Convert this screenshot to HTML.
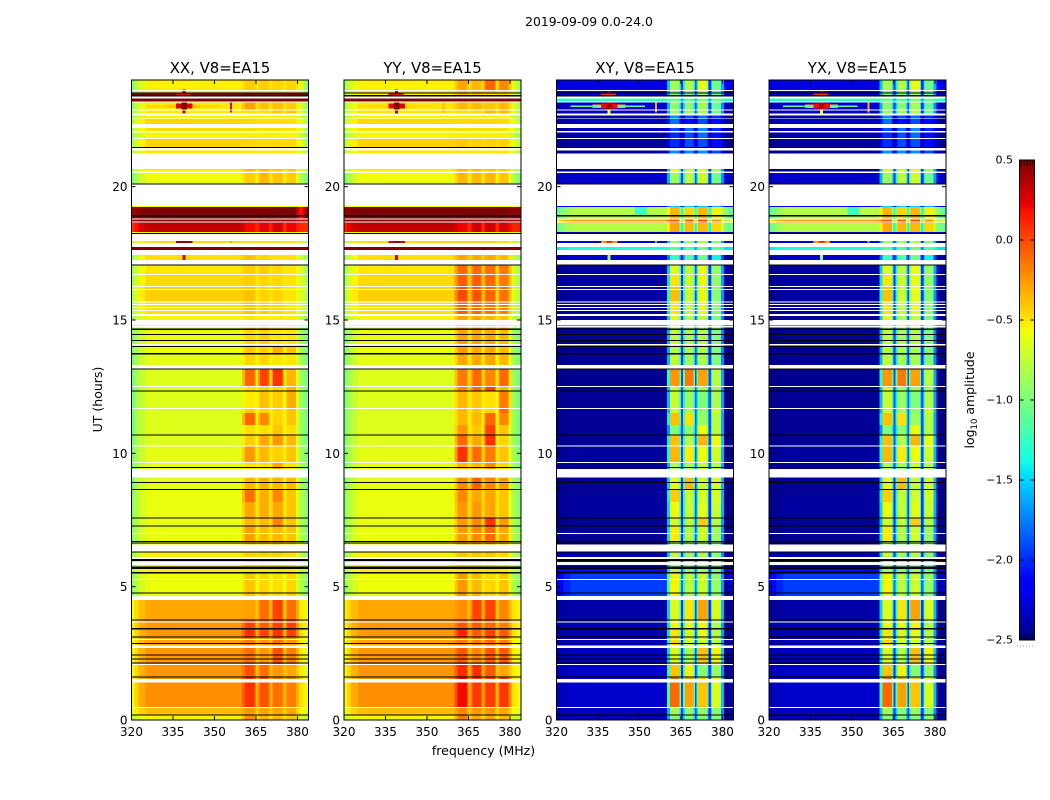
<!DOCTYPE html>
<html lang="en">
<head>
<meta charset="utf-8">
<title>2019-09-09 0.0-24.0</title>
<style>
html,body{margin:0;padding:0;background:#fff;}
svg{display:block;font-family:"DejaVu Sans","Liberation Sans",sans-serif;fill:#000;}
</style>
</head>
<body>
<svg id="figure" width="1050" height="800" viewBox="0 0 1050 800" xmlns="http://www.w3.org/2000/svg">
  <rect width="1050" height="800" fill="#fff"/>
  <text x="589" y="26" font-size="12.4" text-anchor="middle">2019-09-09 0.0-24.0</text>
  <text transform="translate(102,399.5) rotate(-90)" font-size="12.5" text-anchor="middle">UT (hours)</text>
  <text x="483.5" y="755" font-size="12.5" text-anchor="middle">frequency (MHz)</text>
  <text transform="translate(974,400) rotate(-90)" font-size="12.5" text-anchor="middle">log<tspan font-size="8.5" dy="3">10</tspan><tspan dy="-3"> amplitude</tspan></text>
  <g id="panels"></g>
  <g id="colorbar"></g>
</svg>
<script>
// Time-band edges (UT hours), top to bottom
const rowEdges = [24,23.63,23.5,23.3,23.19,22.88,22.75,22.56,22.35,22.07,21.79,21.47,21.23,20.55,19.28,19.24,18.8,18.64,18.3,17.96,17.73,17.44,17.06,16.73,16.24,15.68,15.15,15,14.03,13.73,13.16,12.53,12.34,11.7,11.51,11.06,10.69,10.28,9.64,9.08,8.66,8.18,7.58,7.28,6.68,6.3,5.78,5.51,4.65,3.75,3.41,3.11,2.7,2.1,1.61,.49,.19,0];

// Row values (log10 amplitude): [edge, body, subbandA, gap, subbandB, subbandC, subbandD, tail]
const xxValues = [
[-.95,-.54,-.42,-.52,-.42,-.45,-.45,-.6],
[-.9,-.54,-.48,-.52,-.48,-.48,-.5,-.6],
[.5,.5,.5,.5,.5,.5,.5,.5],
[.5,.5,.5,.5,.5,.5,.5,.5],
[-.9,-.52,-.28,-.5,-.38,-.38,-.42,-.65],
[-.9,-.52,-.48,-.5,-.48,-.4,-.4,-.65],
[-.85,-.56,-.55,-.56,-.55,-.55,-.55,-.7],
[-.8,-.45,-.47,-.48,-.48,-.48,-.48,-.62],
[-.85,-.47,-.47,-.48,-.48,-.48,-.48,-.65],
[-.9,-.56,-.54,-.55,-.54,-.55,-.55,-.7],
[-.85,-.44,-.45,-.47,-.46,-.46,-.46,-.62],
[-.85,-.5,-.5,-.52,-.5,-.5,-.5,-.65],
[-.85,-.52,-.35,-.52,-.35,-.4,-.42,-.68],
[-1,-.58,-.42,-.55,-.35,-.4,-.42,-.8],
[-.6,-.6,-.6,-.6,-.6,-.6,-.6,-.6],
[.42,.5,.5,.48,.5,.5,.5,.18],
[.35,.48,.42,.42,.42,.42,.42,.3],
[.08,.33,.2,.1,.25,.28,.22,.1],
[-.55,-.55,-.55,-.55,-.55,-.55,-.55,-.55],
[-.75,-.48,-.48,-.5,-.48,-.48,-.5,-.65],
[.5,.5,.5,.5,.5,.5,.5,.5],
[-.9,-.48,-.38,-.5,-.44,-.48,-.48,-.72],
[-.85,-.5,-.42,-.52,-.42,-.46,-.5,-.65],
[-.85,-.47,-.42,-.52,-.45,-.46,-.5,-.65],
[-.8,-.43,-.38,-.52,-.44,-.44,-.5,-.65],
[-.85,-.48,-.38,-.52,-.42,-.45,-.5,-.7],
[-.9,-.56,-.5,-.56,-.52,-.52,-.52,-.78],
[-1,-.6,-.45,-.55,-.42,-.5,-.5,-.85],
[-1,-.6,-.4,-.55,-.42,-.32,-.38,-.85],
[-1,-.62,-.45,-.55,-.45,-.5,-.5,-.85],
[-1.02,-.64,-.08,-.52,.02,.08,-.35,-.88],
[-1.02,-.64,-.48,-.55,-.45,-.45,-.35,-.88],
[-1.02,-.64,-.52,-.56,-.38,-.42,-.32,-.88],
[-1.02,-.64,-.42,-.56,-.45,-.45,-.4,-.88],
[-1.02,-.64,-.08,-.55,-.2,-.45,-.4,-.88],
[-1.02,-.64,-.48,-.56,-.48,-.4,-.48,-.88],
[-1.02,-.64,-.42,-.55,-.3,-.25,-.36,-.88],
[-1,-.62,-.25,-.52,-.35,-.44,-.4,-.85],
[-1,-.62,-.48,-.55,-.48,-.3,-.48,-.85],
[-1,-.62,-.35,-.55,-.32,-.35,-.36,-.85],
[-.95,-.6,-.12,-.52,-.32,-.2,-.4,-.82],
[-.95,-.6,-.3,-.52,-.32,-.3,-.4,-.82],
[-.95,-.6,-.35,-.52,-.36,-.18,-.4,-.82],
[-.95,-.6,-.27,-.52,-.36,-.35,-.4,-.82],
[-.9,-.56,-.4,-.5,-.4,-.4,-.45,-.75],
[-.9,-.54,-.44,-.5,-.44,-.44,-.48,-.75],
[-.85,-.52,-.48,-.5,-.48,-.48,-.5,-.72],
[-.95,-.58,-.4,-.58,-.45,-.48,-.45,-.82],
[-.58,-.3,-.28,-.4,-.12,.02,-.12,-.52],
[-.55,-.25,.02,-.35,-.07,.02,.02,-.48],
[-.58,-.26,.08,-.35,.02,.08,.02,-.48],
[-.6,-.28,-.17,-.4,-.22,-.12,-.25,-.52],
[-.6,-.25,-.12,-.4,-.25,-.02,-.17,-.52],
[-.6,-.25,-.02,-.4,-.12,-.25,-.3,-.52],
[-.58,-.22,.08,-.35,-.02,-.12,-.17,-.48],
[-.62,-.38,-.26,-.45,-.3,-.3,-.3,-.58],
[-.72,-.55,-.22,-.52,-.35,-.35,-.4,-.68]
];
const yyValues = [
[-.85,-.54,-.3,-.48,-.35,-.08,-.2,-.62],
[-.85,-.54,-.43,-.5,-.43,-.43,-.48,-.62],
[-.85,-.54,-.36,-.48,-.4,-.48,-.48,-.62],
[.5,.5,.5,.5,.5,.5,.5,.5],
[-.85,-.5,-.35,-.47,-.35,-.4,-.35,-.62],
[-.85,-.5,-.48,-.5,-.45,-.35,-.35,-.62],
[-.85,-.56,-.55,-.55,-.55,-.55,-.55,-.7],
[-.8,-.46,-.47,-.47,-.47,-.47,-.47,-.62],
[-.85,-.48,-.47,-.48,-.48,-.48,-.48,-.65],
[-.9,-.56,-.54,-.55,-.54,-.55,-.55,-.7],
[-.8,-.44,-.4,-.47,-.43,-.43,-.43,-.62],
[-.85,-.5,-.5,-.5,-.5,-.5,-.5,-.65],
[-.85,-.52,-.35,-.5,-.35,-.4,-.42,-.68],
[-1,-.58,-.35,-.55,-.35,-.35,-.4,-.8],
[-.6,-.6,-.6,-.6,-.6,-.6,-.6,-.6],
[.45,.5,.5,.48,.5,.5,.5,.45],
[.4,.48,.42,.42,.42,.42,.42,.35],
[.15,.33,.22,.08,.3,.3,.28,.12],
[-.55,-.55,-.55,-.55,-.55,-.55,-.55,-.55],
[-.75,-.48,-.43,-.5,-.43,-.43,-.48,-.65],
[.5,.5,.5,.5,.5,.5,.5,.5],
[-.9,-.48,-.3,-.46,-.3,-.3,-.35,-.72],
[-.85,-.5,-.1,-.46,-.1,-.12,-.15,-.65],
[-.85,-.47,-.06,-.46,-.06,-.1,-.15,-.65],
[-.8,-.43,.0,-.46,-.03,-.08,-.12,-.65],
[-.85,-.48,-.06,-.48,-.1,-.12,-.18,-.7],
[-.9,-.56,-.3,-.5,-.3,-.35,-.4,-.78],
[-1,-.6,-.28,-.55,-.3,-.3,-.35,-.85],
[-1,-.6,-.26,-.55,-.3,-.3,-.35,-.85],
[-1,-.62,-.3,-.55,-.3,-.3,-.35,-.85],
[-1.02,-.64,-.15,-.5,-.1,-.2,-.1,-.88],
[-1.02,-.64,-.2,-.5,-.1,.02,-.35,-.88],
[-1.02,-.64,-.35,-.55,-.4,-.48,-.15,-.88],
[-1.02,-.64,-.35,-.55,-.4,-.45,-.1,-.88],
[-1.02,-.64,-.35,-.55,-.35,-.1,-.2,-.88],
[-1.02,-.64,-.25,-.55,-.4,.02,-.4,-.88],
[-1.02,-.64,-.1,-.52,-.3,.08,-.45,-.88],
[-1,-.62,.08,-.5,-.1,-.15,-.4,-.85],
[-1,-.62,-.35,-.52,-.35,-.2,-.45,-.85],
[-1,-.62,-.2,-.5,-.06,-.2,-.25,-.85],
[-.95,-.6,-.2,-.5,-.3,-.3,-.4,-.82],
[-.95,-.6,-.25,-.5,-.25,-.3,-.4,-.82],
[-.95,-.6,-.25,-.5,-.2,.08,-.25,-.82],
[-.95,-.6,-.25,-.5,-.2,-.1,-.3,-.82],
[-.9,-.56,-.3,-.5,-.3,-.3,-.4,-.75],
[-.9,-.54,-.4,-.5,-.4,-.4,-.45,-.75],
[-.85,-.52,-.48,-.5,-.48,-.48,-.5,-.72],
[-.95,-.58,-.25,-.56,-.35,-.45,-.4,-.82],
[-.55,-.3,-.22,-.4,.02,.02,-.2,-.5],
[-.55,-.25,-.05,-.35,-.05,-.1,-.15,-.48],
[-.58,-.26,.12,-.35,-.05,.02,-.05,-.48],
[-.6,-.28,-.15,-.4,-.15,-.1,-.15,-.52],
[-.6,-.25,-.05,-.4,-.2,-.05,-.05,-.52],
[-.6,-.25,.1,-.4,.1,-.05,-.3,-.52],
[-.58,-.22,.2,-.35,.06,.04,.06,-.48],
[-.62,-.38,-.2,-.45,-.25,-.25,-.3,-.58],
[-.72,-.55,-.16,-.52,-.3,-.3,-.35,-.68]
];
const xyValues = [
[-2.25,-2.25,-.85,-2,-.8,-.6,-1.05,-2.15],
[-2.3,-2.3,-1.1,-2.1,-1,-.85,-1.25,-2.3],
[-2.35,-2.32,-.95,-2,-.95,-.85,-1.05,-2.3],
[-1.35,-1.25,-1.05,-1.6,-1.05,-.95,-1.05,-1.3],
[-2.4,-2.28,-.95,-2,-.95,-.85,-1.1,-2.3],
[-2.45,-2.32,-.9,-2,-.85,-.8,-1.05,-2.35],
[-2.48,-2.42,-1.7,-2.4,-1.9,-1.8,-2,-2.42],
[-2.45,-2.35,-1.8,-2.4,-2.1,-1.9,-2.1,-2.42],
[-2.48,-2.35,-1.9,-2.4,-1.8,-1.7,-2,-2.42],
[-2.48,-2.4,-2,-2.4,-1.9,-1.8,-2.1,-2.42],
[-2.48,-2.42,-2,-2.4,-1.9,-1.9,-2.1,-2.42],
[-2.48,-2.42,-1.7,-2.3,-1.7,-1.7,-1.9,-2.42],
[-2.48,-2.48,-.65,-2,-.7,-.65,-.85,-2.42],
[-2.32,-2.3,-.9,-2,-.75,-.7,-1.05,-2.3],
[-2.2,-2.2,-1.5,-2.1,-1.5,-1.5,-1.6,-2.2],
[-1.15,-.8,-.35,-1.3,-.45,-.35,-.55,-.95],
[-.55,-.3,-.05,-1.1,-.05,0,-.25,-.85],
[-1.1,-.8,-.3,-1.4,-.35,-.35,-.45,-1],
[-2.42,-2.42,-2.25,-2.42,-2.25,-2.25,-2.25,-2.42],
[-2.35,-2.28,-.85,-2,-.85,-.75,-.95,-2.35],
[-1.45,-1.35,-1.15,-1.7,-1.15,-1.05,-1.15,-1.45],
[-2.42,-2.3,-1.25,-2.1,-1.15,-1.05,-1.4,-2.42],
[-2.48,-2.42,-.65,-2,-.75,-.6,-.9,-2.35],
[-2.48,-2.42,-.5,-2,-.7,-.6,-.9,-2.42],
[-2.48,-2.4,-.38,-2,-.7,-.6,-.95,-2.42],
[-2.48,-2.42,-.5,-2,-.72,-.62,-.95,-2.42],
[-2.48,-2.42,-.65,-2,-.8,-.75,-1,-2.42],
[-2.48,-2.44,-.75,-2,-.82,-.78,-.98,-2.48],
[-2.48,-2.44,-.8,-2,-.82,-.82,-.98,-2.48],
[-2.48,-2.44,-.75,-2,-.85,-.82,-.98,-2.48],
[-2.48,-2.46,-.25,-1.9,-.15,-.28,-.78,-2.48],
[-2.48,-2.46,-.7,-1.9,-.85,-.85,-.85,-2.48],
[-2.48,-2.44,-.72,-1.9,-.88,-.98,-.82,-2.48],
[-2.48,-2.44,-.72,-1.9,-.82,-.92,-.68,-2.48],
[-2.48,-2.44,-.38,-1.9,-.48,-.88,-.78,-2.48],
[-2.48,-2.44,-.98,-1.9,-.92,-.58,-.78,-2.48],
[-2.48,-2.44,-.38,-1.9,-.78,-.35,-.58,-2.48],
[-2.48,-2.42,-.35,-1.9,-.52,-.58,-.68,-2.48],
[-2.48,-2.44,-.82,-1.9,-.82,-.72,-.78,-2.48],
[-2.48,-2.42,-.62,-2,-.35,-.72,-.68,-2.48],
[-2.48,-2.42,-.42,-2,-.72,-.68,-.68,-2.48],
[-2.48,-2.42,-.58,-2,-.72,-.62,-.72,-2.48],
[-2.48,-2.44,-.68,-2,-.72,-.42,-.78,-2.48],
[-2.48,-2.44,-.52,-2,-.78,-.68,-.88,-2.48],
[-2.48,-2.42,-.8,-2,-.85,-.8,-.95,-2.48],
[-2.42,-2.38,-.75,-2,-.85,-.8,-.95,-2.42],
[-2.25,-2.12,-.85,-1.9,-.95,-.9,-1.05,-2.35],
[-2.25,-1.95,-.55,-1.8,-.75,-.7,-.9,-2.42],
[-2.45,-2.4,-.65,-2,-.5,-.28,-.65,-2.48],
[-2.42,-2.38,-.6,-2,-.6,-.55,-.8,-2.48],
[-2.42,-2.38,-.5,-2,-.65,-.6,-.8,-2.48],
[-2.42,-2.38,-.45,-2,-.65,-.7,-.8,-2.48],
[-2.4,-2.34,-.65,-2,-.8,-.38,-.55,-2.48],
[-2.38,-2.3,-.4,-2,-.55,-.95,-.9,-2.48],
[-2.38,-2.3,-.1,-1.9,-.28,-.4,-.65,-2.48],
[-2.38,-2.34,-.85,-2,-.95,-.9,-.95,-2.48],
[-2.38,-2.34,-.95,-2,-.95,-.95,-.95,-2.48]
];
const yxValues = xyValues.map(function(row){ return row.slice(); });

// Flagged time ranges (UT hours): [start, end]
const whiteFlags = [[23.58,23.63],[23.3,23.41],[23.15,23.2],[22.86,22.89],[22.67,22.75],[22.53,22.56],[22.2,22.35],[22.04,22.08],[21.79,21.83],[21.35,21.47],[20.66,21.24],[20.52,20.56],[19.28,20.1],[18.76,18.8],[18.65,18.69],[17.96,18.23],[17.73,17.89],[17.44,17.63],[17.08,17.25],[16.69,16.73],[16.24,16.28],[16.13,16.16],[15.65,15.69],[15.56,15.6],[15.45,15.49],[15.34,15.38],[15.15,15.23],[14.81,15],[14.72,14.79],[14.04,14.1],[13.19,13.31],[12.49,12.53],[11.66,11.7],[10.26,10.3],[9.64,9.68],[9.09,9.42],[6.98,7.01],[6.32,6.58],[6.04,6.11],[5.81,5.93],[5.25,5.29],[4.5,4.65],[3.66,3.7],[3,3.04],[2.7,2.79],[2.06,2.1],[1.41,1.54],[.45,.49]];
const blackFlags = [[23.5,23.54],[23.39,23.43],[21.45,21.49],[20.08,20.12],[18.89,18.93],[18.22,18.26],[17.04,17.08],[14.63,14.69],[14.44,14.48],[14.21,14.25],[13.98,14.02],[13.71,13.76],[13.14,13.18],[12.31,12.35],[10.66,10.7],[9.45,9.49],[8.89,8.93],[8.63,8.67],[7.56,7.6],[7.25,7.29],[6.67,6.71],[6.63,6.66],[6.28,6.32],[5.96,6.03],[5.66,5.76],[5.49,5.55],[4.74,4.78],[3.73,3.77],[3.39,3.45],[3.09,3.13],[2.85,2.89],[2.42,2.46],[2.26,2.3],[2.12,2.16],[1.59,1.63],[.17,.21]];

// Narrow interference bursts: [freqStart, freqEnd, hourStart, hourEnd, XX, YY, XY]
const rfiBursts = [
[333,345,22.95,23.09,-.4,-.45,-.35],
[325,352,22.99,23.04,-.42,-.45,-1.1],
[336,342,22.93,23.12,.25,.25,.2],
[338,340,22.88,23.19,.5,.5,.4],
[338.5,339.5,22.75,22.88,.4,.4,-.6],
[338.5,339.5,23.5,23.65,.4,.4,.3],
[336,341.5,23.44,23.5,.25,.25,.1],
[355.7,356.3,22.78,23.19,.25,-.35,-.3],
[336,342,17.89,17.96,.45,.3,-.25],
[338,340,17.9,17.98,.5,.5,.2],
[338.5,339.6,17.25,17.44,.3,.3,-.9],
[355.7,356.3,17.9,17.96,-.2,-.4,-.5],
[348.4,352.6,18.93,19.24,.5,.5,-1.25]
];

// Axis ticks and colour scale
const panelTitles = ["XX, V8=EA15","YY, V8=EA15","XY, V8=EA15","YX, V8=EA15"];
const panelLeft = [131.5,344,556.5,769];
const panelValues = [xxValues,yyValues,xyValues,yxValues];
const panelBurstColumn = [4,5,6,6];
const freqTicks = [320,335,350,365,380];
const hourTicks = [0,5,10,15,20];
const colorTicks = [.5,0,-.5,-1,-1.5,-2,-2.5];
const freqCellEdges = [320,321,322.5,325,360,361,364.5,365,365.8,366.4,369.6,370,370.7,371.2,374.6,375,375.8,376.3,379.5,380.5,382,383,384];

const NS = "http://www.w3.org/2000/svg";
const panelWidth = 177, plotTop = 80, plotBottom = 720;
const vMin = -2.5, vMax = .5;
function xScale(left, f){ return left + (f - 320) / 64 * panelWidth; }
function yScale(h){ return plotBottom - h / 24 * (plotBottom - plotTop); }
function lerp(points, t){
  for (let i = 1; i < points.length; i++) {
    if (t <= points[i][0]) {
      const a = points[i-1], b = points[i];
      return a[1] + (b[1]-a[1]) * (t-a[0]) / (b[0]-a[0]);
    }
  }
  return points[points.length-1][1];
}
const jetR = [[0,0],[.35,0],[.66,1],[.89,1],[1,.5]];
const jetG = [[0,0],[.125,0],[.375,1],[.64,1],[.91,0],[1,0]];
const jetB = [[0,.5],[.11,1],[.34,1],[.65,0],[1,0]];
function jet(v){
  const t = Math.min(1, Math.max(0, (v - vMin) / (vMax - vMin)));
  return "rgb(" + Math.round(255*lerp(jetR,t)) + "," + Math.round(255*lerp(jetG,t)) + "," + Math.round(255*lerp(jetB,t)) + ")";
}
function shape(tag, parent, props){
  const el = document.createElementNS(NS, tag);
  for (const k in props) el.setAttribute(k, props[k]);
  parent.appendChild(el);
  return el;
}
function mix(a, b, w){ return a * (1 - w) + b * w; }
function cellValues(row){
  const edge = row[0], body = row[1], a = row[2], gap = row[3], b = row[4], c = row[5], d = row[6], tail = row[7];
  return [
    edge, mix(edge,body,.4), mix(edge,body,.75), body,
    mix(body,a,.5), a, mix(a,gap,.5), gap, mix(gap,b,.5),
    b, mix(b,gap,.5), gap, mix(gap,c,.5),
    c, mix(c,gap,.5), gap, mix(gap,d,.5),
    d, mix(d,tail,.5), tail, mix(tail,edge,.5), edge
  ];
}

const panelsRoot = document.getElementById("panels");
panelTitles.forEach(function(title, p){
  const left = panelLeft[p];
  const group = shape("g", panelsRoot, {});
  
  

  const heat = shape("g", group, {"shape-rendering":"crispEdges"});
  
  

  panelValues[p].forEach(function(row, r){
    const y0 = yScale(rowEdges[r]), y1 = yScale(rowEdges[r+1]);
    cellValues(row).forEach(function(v, c){
      const x0 = xScale(left, freqCellEdges[c]), x1 = xScale(left, freqCellEdges[c+1]);
      const cell = shape("rect", heat, {x:x0, y:y0, width:x1-x0, height:y1-y0, fill:jet(v)});
      
      
    });
  });

  rfiBursts.forEach(function(b){
    const x0 = xScale(left, b[0]), x1 = xScale(left, b[1]);
    const y0 = yScale(b[3]), y1 = yScale(b[2]);
    const burst = shape("rect", heat, {x:x0, y:y0, width:x1-x0, height:y1-y0, fill:jet(b[panelBurstColumn[p]])});
    
    
  });

  whiteFlags.forEach(function(f){
    const y0 = yScale(f[1]), y1 = yScale(f[0]);
    const band = shape("rect", heat, {x:left, y:y0, width:panelWidth, height:y1-y0, fill:"#fff"});
    
    
  });
  blackFlags.forEach(function(f){
    const y0 = yScale(f[1]), y1 = yScale(f[0]);
    const band = shape("rect", heat, {x:left, y:y0, width:panelWidth, height:Math.max(1, y1-y0), fill:"#000"});
    
    
  });

  const frame = shape("rect", group, {x:left, y:plotTop, width:panelWidth, height:plotBottom-plotTop, fill:"none", stroke:"#000", "stroke-width":1});
  
  

  freqTicks.forEach(function(f){
    const x = xScale(left, f);
    const tickBottom = shape("line", group, {x1:x, x2:x, y1:plotBottom, y2:plotBottom-4, stroke:"#000"});
    
    
    const tickTop = shape("line", group, {x1:x, x2:x, y1:plotTop, y2:plotTop+4, stroke:"#000"});
    
    
    const label = shape("text", group, {x:x, y:736, "font-size":12, "text-anchor":"middle"});
    
    
    label.textContent = f;
  });
  hourTicks.forEach(function(h){
    const y = yScale(h);
    const tickLeft = shape("line", group, {x1:left, x2:left+4, y1:y, y2:y, stroke:"#000"});
    
    
    const tickRight = shape("line", group, {x1:left+panelWidth, x2:left+panelWidth-4, y1:y, y2:y, stroke:"#000"});
    
    
    const label = shape("text", group, {x:left-4, y:y+4.5, "font-size":12, "text-anchor":"end"});
    
    
    label.textContent = h;
  });

  const head = shape("text", group, {x:left+panelWidth/2, y:73, "font-size":14.9, "text-anchor":"middle"});
  
  
  head.textContent = title;
});

// Colorbar
const cbRoot = document.getElementById("colorbar");
const cbLeft = 1019.5, cbWidth = 15, cbTop = 160, cbBottom = 640;
function cbY(v){ return cbTop + (vMax - v) / (vMax - vMin) * (cbBottom - cbTop); }
const cbSteps = 240;
for (let i = 0; i < cbSteps; i++) {
  const v0 = vMax - (vMax - vMin) * i / cbSteps;
  const v1 = vMax - (vMax - vMin) * (i + 1) / cbSteps;
  const seg = shape("rect", cbRoot, {x:cbLeft, y:cbY(v0), width:cbWidth, height:cbY(v1)-cbY(v0)+.5, fill:jet((v0+v1)/2), "shape-rendering":"crispEdges"});
  
  
}
const cbFrame = shape("rect", cbRoot, {x:cbLeft, y:cbTop, width:cbWidth, height:cbBottom-cbTop, fill:"none", stroke:"#000"});


colorTicks.forEach(function(v){
  const y = cbY(v);
  const t1 = shape("line", cbRoot, {x1:cbLeft, x2:cbLeft+4, y1:y, y2:y, stroke:"#000"});
  
  
  const t2 = shape("line", cbRoot, {x1:cbLeft+cbWidth, x2:cbLeft+cbWidth-4, y1:y, y2:y, stroke:"#000"});
  
  
  const label = shape("text", cbRoot, {x:1013, y:y+3.5, "font-size":11, "text-anchor":"end"});
  
  
  label.textContent = v.toFixed(1).replace("-", "\u2212");
});
[[cbTop, cbTop+6],[cbBottom-6, cbBottom]].forEach(function(span){
  for (let x = cbLeft + 2; x < cbLeft + cbWidth; x += 2.8) {
    const m = shape("line", cbRoot, {x1:x, x2:x, y1:span[0], y2:span[1], stroke:"#000", "stroke-width":.7});
    
    
  }
});
const cbDots = shape("line", cbRoot, {x1:1017, x2:1035, y1:646, y2:646, stroke:"#999", "stroke-width":1, "stroke-dasharray":"1 2"});


</script>
</body>
</html>
